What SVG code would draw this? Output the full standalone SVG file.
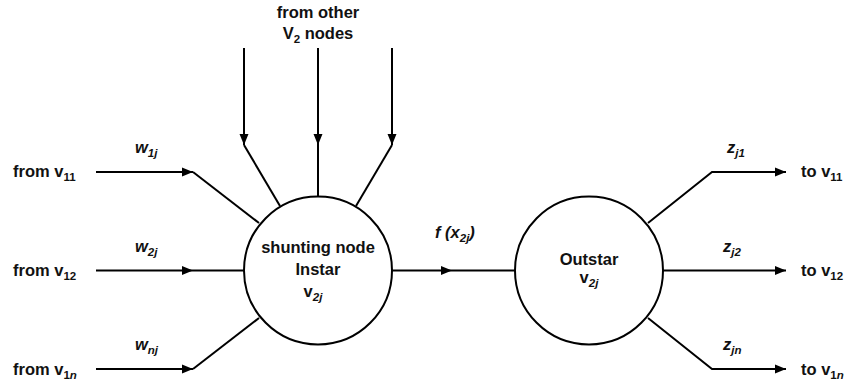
<svg xmlns="http://www.w3.org/2000/svg" width="847" height="383" viewBox="0 0 847 383">
  <style>
    .wire { fill: none; stroke: #000; stroke-width: 2; }
    .arrow { marker-end: url(#head); }
    .node { fill: #fff; stroke: #000; stroke-width: 2; }
    text { font-family: "Liberation Sans", Arial, sans-serif; font-weight: bold; font-size: 16.5px; fill: #111; }
    .mid { text-anchor: middle; }
    .it { font-style: italic; }
    .sub { font-size: 11.5px; }
  </style>
  <defs>
    <marker id="head" markerWidth="12" markerHeight="10" refX="11" refY="5" orient="auto" markerUnits="userSpaceOnUse">
      <path d="M0,0.5 L11,5 L0,9.5 z" fill="#000"/>
    </marker>
  </defs>

  <rect width="847" height="383" fill="#fff"/>

  <!-- connectors -->
  <g id="connectors">
    <!-- inputs from v1 layer -->
    <path class="wire arrow" d="M96,172 L193,172"/>
    <path class="wire" d="M193,172 L259,223"/>
    <path class="wire arrow" d="M96,270.5 L193,270.5"/>
    <path class="wire" d="M193,270.5 L244,270.5"/>
    <path class="wire arrow" d="M96,369 L193,369"/>
    <path class="wire" d="M193,369 L259,318"/>
    <!-- inputs from other V2 nodes -->
    <path class="wire arrow" d="M244,48 L244,145"/>
    <path class="wire" d="M244,145 L280,206"/>
    <path class="wire arrow" d="M318,48 L318,145"/>
    <path class="wire" d="M318,145 L318,196"/>
    <path class="wire arrow" d="M392,48 L392,145"/>
    <path class="wire" d="M392,145 L356,206"/>
    <!-- instar to outstar -->
    <path class="wire arrow" d="M392,270.5 L452,270.5"/>
    <path class="wire" d="M452,270.5 L515,270.5"/>
    <!-- outputs to v1 layer -->
    <path class="wire arrow" d="M648,223 L712,172 L786,172"/>
    <path class="wire arrow" d="M663,270.5 L786,270.5"/>
    <path class="wire arrow" d="M648,318 L712,369 L786,369"/>
  </g>

  <!-- connector labels -->
  <g id="labels">
    <text x="13" y="177">from v<tspan class="sub" dy="4">11</tspan></text>
    <text x="13" y="276">from v<tspan class="sub" dy="4">12</tspan></text>
    <text x="13" y="375">from v<tspan class="sub" dy="4">1<tspan class="it">n</tspan></tspan></text>

    <text class="mid" x="318" y="18">from other</text>
    <text class="mid" x="318" y="39">V<tspan class="sub" dy="4">2</tspan><tspan dy="-4"> nodes</tspan></text>

    <text class="it" x="135" y="153">w<tspan class="sub" dy="4">1j</tspan></text>
    <text class="it" x="135" y="252">w<tspan class="sub" dy="4">2j</tspan></text>
    <text class="it" x="135" y="350">w<tspan class="sub" dy="4">nj</tspan></text>

    <text class="it" x="435" y="238">f (x<tspan class="sub" dy="4">2j</tspan><tspan dy="-4">)</tspan></text>

    <text class="it" x="727" y="153">z<tspan class="sub" dy="4">j1</tspan></text>
    <text class="it" x="723" y="252">z<tspan class="sub" dy="4">j2</tspan></text>
    <text class="it" x="723" y="350">z<tspan class="sub" dy="4">jn</tspan></text>

    <text x="801" y="177">to v<tspan class="sub" dy="4">11</tspan></text>
    <text x="801" y="276">to v<tspan class="sub" dy="4">12</tspan></text>
    <text x="801" y="375">to v<tspan class="sub" dy="4">1<tspan class="it">n</tspan></tspan></text>
  </g>

  <!-- instar (shunting node) -->
  <g id="instar">
    <circle class="node" cx="318" cy="270.5" r="74"/>
    <text class="mid" x="318" y="253">shunting node</text>
    <text class="mid" x="318" y="275">Instar</text>
    <text class="mid" x="313" y="297">v<tspan class="sub it" dy="4">2j</tspan></text>
  </g>

  <!-- outstar -->
  <g id="outstar">
    <circle class="node" cx="589" cy="270.5" r="74"/>
    <text class="mid" x="589" y="265">Outstar</text>
    <text class="mid" x="589" y="283">v<tspan class="sub it" dy="4">2j</tspan></text>
  </g>
</svg>
